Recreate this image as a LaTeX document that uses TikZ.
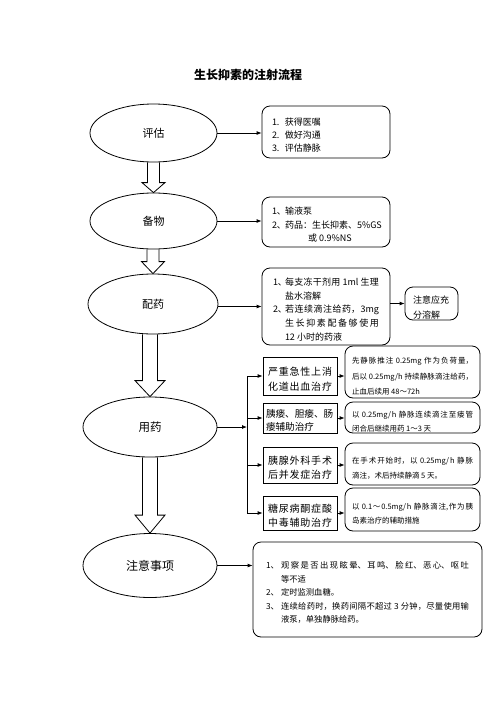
\documentclass[tikz,border=0pt]{standalone}
\usepackage{fontspec}
\setmainfont{Noto Sans CJK SC}
\usetikzlibrary{shapes.geometric,arrows.meta,calc}
\XeTeXlinebreaklocale "zh"
\XeTeXlinebreakskip=0pt plus 1pt
\tolerance=10000
\hbadness=10000
\newcommand\fs[2]{\fontsize{#1}{#2}\selectfont}
% left-aligned line, no breaking
\newcommand\Ln[2]{\par\noindent\hspace*{#1}\mbox{#2}}
% justified line, spread to the full width
\newcommand\Jn[2]{\par{\parfillskip=0pt\noindent\hspace*{#1}#2\par}}
\newcommand\blockarr[5]{%
 \draw let \p1=(#1.south), \p2=(#2.north) in
 ({\x2-#3pt},\y1) -- ({\x2-#3pt},{\y2+#5pt}) -- ({\x2-#4pt},{\y2+#5pt}) -- (\x2,\y2)
 -- ({\x2+#4pt},{\y2+#5pt}) -- ({\x2+#3pt},{\y2+#5pt}) -- ({\x2+#3pt},\y1);}
\begin{document}
\begin{tikzpicture}[x=1pt,y=-1pt,line width=0.8pt,
 ell/.style={ellipse,draw,inner sep=0pt},
 rbox/.style={draw,rounded corners=8pt,align=justify,inner ysep=0pt},
 sbox/.style={draw,align=justify,inner ysep=0pt},
 arr/.style={-{Latex[length=5pt,width=4pt]}}]
\useasboundingbox (0,0) rectangle (496,702);

\node[font=\bfseries\fs{12}{14}] (title) at (248,75) {生长抑素的注射流程};

\node[ell,minimum width=127pt,minimum height=58pt,font=\fs{11}{13}] (e1) at (153.5,133) {评估};
\node[ell,minimum width=127pt,minimum height=56pt,font=\fs{11}{13}] (e2) at (153.5,221) {备物};
\node[ell,minimum width=130pt,minimum height=60pt,font=\fs{11}{13}] (e3) at (153,304) {配药};
\node[ell,minimum width=134pt,minimum height=60pt,font=\fs{11.5}{13}] (e4) at (150,427) {用药};
\node[ell,minimum width=134pt,minimum height=64pt,font=\fs{12}{14}] (e5) at (150,565.5) {注意事项};

\node[rbox,minimum width=128pt,minimum height=52pt,text width=108pt,inner xsep=10pt,font=\fs{9}{13}] (b1) at (326,132)
 {\Ln{0pt}{\makebox[13pt][l]{1.}获得医嘱}\Ln{0pt}{\makebox[13pt][l]{2.}做好沟通}\Ln{0pt}{\makebox[13pt][l]{3.}评估静脉}};
\node[rbox,minimum width=128pt,minimum height=50pt,text width=108pt,inner xsep=10pt,font=\fs{9}{13.5}] (b2) at (326,222)
 {\Ln{0pt}{\makebox[13pt][l]{1、}输液泵}\Ln{0pt}{\makebox[13pt][l]{2、}药品：生长抑素、5\%GS}\Ln{36pt}{或 0.9\%NS}};
\node[rbox,minimum width=128pt,minimum height=77pt,text width=106pt,inner xsep=11pt,font=\fs{9}{13.7}] (b3) at (326,306.5)
 {\Jn{0pt}{\makebox[12pt][l]{1、}每支冻干剂用 1ml 生理}\Ln{12pt}{盐水溶解}%
  \Jn{0pt}{\makebox[12pt][l]{2、}若连续滴注给药，3mg}\Jn{12pt}{生长抑素配备够使用}\Ln{12pt}{12 小时的药液}};
\node[rbox,minimum width=53pt,minimum height=33pt,text width=37pt,inner xsep=8pt,font=\fs{9}{15}] (sb) at (431.5,303.5)
 {\Ln{0pt}{注意应充}\Ln{0pt}{分溶解}};

\node[sbox,minimum width=74pt,minimum height=38pt,text width=64pt,inner xsep=5pt,font=\fs{10}{15}] (ra) at (300,376)
 {\Jn{0pt}{严重急性上消}\Jn{0pt}{化道出血治疗}};
\node[sbox,minimum width=74pt,minimum height=30pt,text width=68pt,inner xsep=3pt,font=\fs{9.6}{13}] (rb) at (300,418)
 {\Ln{0pt}{胰瘘、胆瘘、肠}\Ln{0pt}{瘘辅助治疗}};
\node[sbox,minimum width=74pt,minimum height=36pt,text width=64pt,inner xsep=5pt,font=\fs{10}{14}] (rc) at (300,465)
 {\Jn{0pt}{胰腺外科手术}\Jn{0pt}{后并发症治疗}};
\node[sbox,minimum width=74pt,minimum height=34pt,text width=64pt,inner xsep=5pt,font=\fs{10}{13.5}] (rd) at (300,513)
 {\Jn{0pt}{糖尿病酮症酸}\Jn{0pt}{中毒辅助治疗}};

\node[rbox,minimum width=135pt,minimum height=52pt,text width=121pt,inner xsep=7pt,font=\fs{7.5}{15.5}] (oa) at (412.5,372)
 {\Jn{0pt}{先静脉推注 0.25mg 作为负荷量，}\Jn{0pt}{后以 0.25mg/h 持续静脉滴注给药，}\Ln{0pt}{止血后续用 48～72h}};
\node[rbox,minimum width=135pt,minimum height=31pt,text width=121pt,inner xsep=7pt,font=\fs{7.5}{14}] (ob) at (412.5,417.5)
 {\Jn{0pt}{以 0.25mg/h 静脉连续滴注至瘘管}\Ln{0pt}{闭合后继续用药 1～3 天}};
\node[rbox,minimum width=135pt,minimum height=42pt,text width=121pt,inner xsep=7pt,font=\fs{7.5}{15}] (oc) at (412.5,464)
 {\Jn{0pt}{在手术开始时，以 0.25mg/h 静脉}\Ln{0pt}{滴注，术后持续静滴 5 天。}\par\vspace*{7pt}};
\node[rbox,minimum width=135pt,minimum height=43pt,text width=121pt,inner xsep=7pt,font=\fs{7.5}{14}] (od) at (412.5,509.5)
 {\Jn{0pt}{以 0.1～0.5mg/h 静脉滴注,作为胰}\Ln{0pt}{岛素治疗的辅助措施}\par\vspace*{13pt}};

\node[rbox,minimum width=229pt,minimum height=95pt,text width=203pt,inner xsep=13pt,font=\fs{8.3}{13.5}] (b5) at (367.5,589.5)
 {\Jn{0pt}{\makebox[15pt][l]{1、}观察是否出现眩晕、耳鸣、脸红、恶心、呕吐}\Ln{15pt}{等不适}%
  \Ln{0pt}{\makebox[15pt][l]{2、}定时监测血糖。}%
  \Jn{0pt}{\makebox[15pt][l]{3、}连续给药时，换药间隔不超过 3 分钟，尽量使用输}\Ln{15pt}{液泵，单独静脉给药。}\par\vspace*{15pt}};

\draw[arr] (e1.east) -- (e1.east -| b1.west);
\draw[arr] (e2.east) -- (e2.east -| b2.west);
\draw[arr] (b3.west -| e3.east) -- (b3.west);
\draw[arr] (sb.west -| b3.east) -- (sb.west);
\coordinate (bus) at (247,431);
\draw[arr] (e4.east) -- (e4.east -| bus);
\draw (ra.west -| bus) -- (rd.west -| bus);
\draw[arr] (ra.west -| bus) -- (ra.west);
\draw[arr] (rb.west -| bus) -- (rb.west);
\draw[arr] (rc.west -| bus) -- (rc.west);
\draw[arr] (rd.west -| bus) -- (rd.west);
\draw[arr] (ra.east) -- (ra.east -| oa.west);
\draw[arr] (rb.east) -- (rb.east -| ob.west);
\draw[arr] (rc.east) -- (rc.east -| oc.west);
\draw[arr] (rd.east) -- (rd.east -| od.west);
\draw[arr] (e5.east) -- (e5.east -| b5.west);

\blockarr{e1}{e2}{6}{11.5}{10}
\blockarr{e2}{e3}{6}{11.5}{12}
\blockarr{e3}{e4}{7.5}{15}{16}
\blockarr{e4}{e5}{7.5}{15}{18}
\end{tikzpicture}
\end{document}
